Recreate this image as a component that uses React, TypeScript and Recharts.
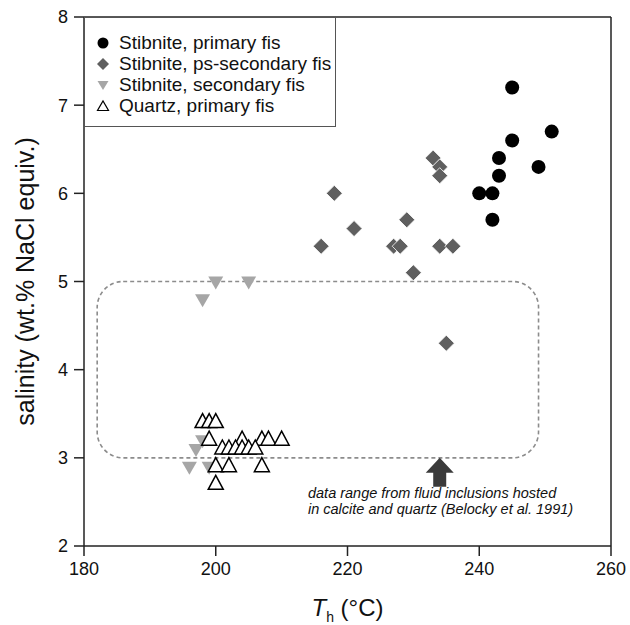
import { ScatterChart, Scatter, XAxis, YAxis, ReferenceLine, ReferenceArea, ReferenceDot, Legend, Label } from 'recharts';

// homogenization temperature (°C) / salinity (wt.% NaCl equiv.)
const primaryTh = [245, 251, 245, 243, 249, 243, 240, 242, 242];
const primarySal = [7.2, 6.7, 6.6, 6.4, 6.3, 6.2, 6.0, 6.0, 5.7];

const psSecTh = [233, 234, 234, 218, 229, 221, 216, 227, 228, 234, 236, 230, 235];
const psSecSal = [6.4, 6.3, 6.2, 6.0, 5.7, 5.6, 5.4, 5.4, 5.4, 5.4, 5.4, 5.1, 4.3];

const secTh = [200, 205, 198, 198, 197, 196, 199];
const secSal = [5.0, 5.0, 4.8, 3.2, 3.1, 2.9, 2.9];

const quartzTh = [198, 199, 200, 199, 204, 207, 208, 210, 201, 202, 203, 204, 205, 206, 200, 202, 207, 200];
const quartzSal = [3.4, 3.4, 3.4, 3.2, 3.2, 3.2, 3.2, 3.2, 3.1, 3.1, 3.1, 3.1, 3.1, 3.1, 2.9, 2.9, 2.9, 2.7];

const xTicks = [180, 200, 220, 240, 260];
const yTicks = [2, 3, 4, 5, 6, 7, 8];

// Belocky et al. 1991 range box
const rangeTh = [182, 249];
const rangeSal = [3, 5];

const legendLabels = ['Stibnite, primary fis', 'Stibnite, ps-secondary fis', 'Stibnite, secondary fis', 'Quartz, primary fis'];
const noteLines = ['data range from fluid inclusions hosted', 'in calcite and quartz (Belocky et al. 1991)'];

const toPoints = (xs: number[], ys: number[]) => xs.map((th, i) => ({ th, sal: ys[i] }));

const FONT = "'Liberation Sans', Arial, sans-serif";
const AXIS = '#222';

const Circle = ({ cx, cy }: any) => <circle cx={cx} cy={cy} r={7} fill="#000" />;
const Diamond = ({ cx, cy }: any) => (
  <polygon points={`${cx},${cy - 8} ${cx + 8},${cy} ${cx},${cy + 8} ${cx - 8},${cy}`} fill="#5f5f5f" stroke="#fff" strokeWidth={0.8} />
);
const TriDown = ({ cx, cy }: any) => (
  <polygon points={`${cx - 7.5},${cy - 5} ${cx + 7.5},${cy - 5} ${cx},${cy + 8}`} fill="#a6a6a6" />
);
const TriUp = ({ cx, cy }: any) => (
  <polygon points={`${cx - 7.5},${cy + 5} ${cx + 7.5},${cy + 5} ${cx},${cy - 9}`} fill="#fff" stroke="#000" strokeWidth={1.5} />
);

const legendIcons = [
  <circle cx={7} cy={7} r={5.5} fill="#000" />,
  <polygon points="7,1 13,7 7,13 1,7" fill="#5f5f5f" />,
  <polygon points="1.5,3 12.5,3 7,12" fill="#a6a6a6" />,
  <polygon points="1.5,11.5 12.5,11.5 7,2" fill="#fff" stroke="#000" strokeWidth={1.2} />,
];

function LegendBox() {
  return (
    <div
      style={{
        width: 252,
        height: 110,
        boxSizing: 'border-box',
        border: '1.5px solid #555',
        background: '#fff',
        paddingTop: 14,
        fontFamily: FONT,
        fontSize: 19,
        color: '#111',
      }}
    >
      {legendLabels.map((t, i) => (
        <div key={i} style={{ display: 'flex', alignItems: 'center', height: 21 }}>
          <svg width={14} height={14} style={{ marginLeft: 11, marginRight: 9 }}>
            {legendIcons[i]}
          </svg>
          <span style={{ whiteSpace: 'nowrap' }}>{t}</span>
        </div>
      ))}
    </div>
  );
}

const RangeBox = ({ x, y, width, height }: any) => (
  <rect x={x} y={y} width={width} height={height} rx={26} ry={26} fill="none" stroke="#8c8c8c" strokeWidth={1.6} strokeDasharray="4 3" />
);

const Arrow = ({ cx, cy }: any) => (
  <polygon
    points={`${cx},${cy} ${cx + 14},${cy + 15} ${cx + 6.5},${cy + 15} ${cx + 6.5},${cy + 29} ${cx - 6.5},${cy + 29} ${cx - 6.5},${cy + 15} ${cx - 14},${cy + 15}`}
    fill="#3a3a3a"
  />
);

const Note = ({ cx, cy }: any) => (
  <text x={cx} y={cy} fontFamily={FONT} fontSize={14.5} fontStyle="italic" fill="#111">
    <tspan x={cx} dy={0}>{noteLines[0]}</tspan>
    <tspan x={cx} dy={16}>{noteLines[1]}</tspan>
  </text>
);

const XTitle = ({ viewBox }: any) => (
  <text x={viewBox.x + viewBox.width / 2} y={viewBox.y + 70} textAnchor="middle" fontFamily={FONT} fontSize={24} fill="#111">
    <tspan fontStyle="italic">T</tspan>
    <tspan fontSize={14} dy={6}>h</tspan>
    <tspan dy={-6}> (°C)</tspan>
  </text>
);

const YTitle = ({ viewBox }: any) => {
  const x = 25;
  const y = viewBox.y + viewBox.height / 2;
  return (
    <text x={x} y={y} transform={`rotate(-90 ${x} ${y})`} textAnchor="middle" dominantBaseline="central" fontFamily={FONT} fontSize={25} fill="#111">
      salinity (wt.% NaCl equiv.)
    </text>
  );
};

export default function App() {
  const tick = { fill: '#111', fontSize: 18, fontFamily: FONT };
  return (
    <div style={{ width: 630, height: 625, background: '#fff' }}>
      <style>{'body{margin:0}'}</style>
      <ScatterChart width={630} height={625} margin={{ top: 17, right: 19, bottom: 0, left: 0 }}>
        <XAxis
          type="number"
          dataKey="th"
          domain={[180, 260]}
          ticks={xTicks}
          height={79}
          tickSize={10}
          tickMargin={6}
          tick={tick}
          axisLine={{ stroke: AXIS, strokeWidth: 1.5 }}
          tickLine={{ stroke: AXIS, strokeWidth: 1.5 }}
        >
          <Label content={XTitle} />
        </XAxis>
        <YAxis
          type="number"
          dataKey="sal"
          domain={[2, 8]}
          ticks={yTicks}
          width={84}
          tickSize={10}
          tickMargin={6}
          tick={tick}
          axisLine={{ stroke: AXIS, strokeWidth: 1.5 }}
          tickLine={{ stroke: AXIS, strokeWidth: 1.5 }}
        >
          <Label content={YTitle} />
        </YAxis>
        <ReferenceLine y={8} stroke={AXIS} strokeWidth={1.5} />
        <ReferenceLine x={260} stroke={AXIS} strokeWidth={1.5} />
        <ReferenceArea x1={rangeTh[0]} x2={rangeTh[1]} y1={rangeSal[0]} y2={rangeSal[1]} shape={RangeBox} />
        <ReferenceDot x={234} y={3} shape={Arrow} />
        <ReferenceDot x={214} y={2.55} shape={Note} />
        <Scatter data={toPoints(primaryTh, primarySal)} shape={Circle} isAnimationActive={false} />
        <Scatter data={toPoints(psSecTh, psSecSal)} shape={Diamond} isAnimationActive={false} />
        <Scatter data={toPoints(secTh, secSal)} shape={TriDown} isAnimationActive={false} />
        <Scatter data={toPoints(quartzTh, quartzSal)} shape={TriUp} isAnimationActive={false} />
        <Legend
          layout="vertical"
          align="center"
          verticalAlign="middle"
          content={LegendBox}
          wrapperStyle={{ top: 17, left: 84, width: 252, height: 110 }}
        />
      </ScatterChart>
    </div>
  );
}
